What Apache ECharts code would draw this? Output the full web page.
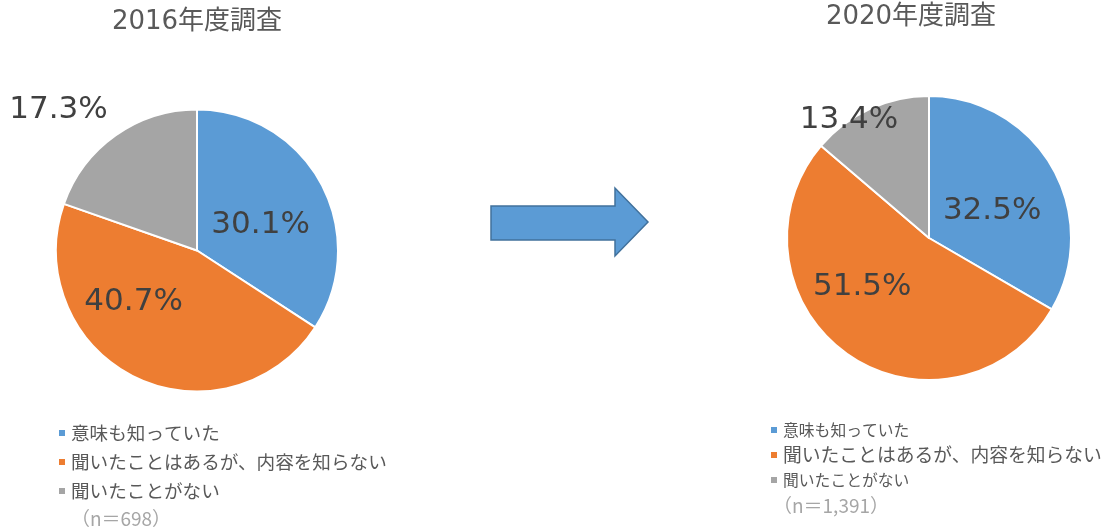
<!DOCTYPE html>
<html>
<head>
<meta charset="utf-8">
<script src="https://cdn.jsdelivr.net/npm/echarts@6/dist/echarts.min.js"></script>
<style>html,body{margin:0;padding:0;background:#fff;}#c{width:1107px;height:529px;}</style>
</head>
<body>
<div id="c"></div>
<script>
const categories = ['意味も知っていた', '聞いたことはあるが、内容を知らない', '聞いたことがない'];
const values2016 = [30.1, 40.7, 17.3];
const values2020 = [32.5, 51.5, 13.4];
const titles = ['2016年度調査', '2020年度調査'];
const sampleNotes = ['（n＝698）', '（n＝1,391）'];
const colors = ['#5b9bd5', '#ed7d31', '#a5a5a5'];

const labelOffsets2016 = [[-1, 10], [-31, -15], [-96, -81]];
const labelOffsets2020 = [[-1, 10], [-24, -11], [-49, -51]];

const chart = echarts.init(document.getElementById('c'));
const pctFont = 'DejaVu Sans, Noto Sans CJK JP, sans-serif';
const jpFont = 'Noto Sans CJK JP, sans-serif';

function pie(values, center, radius, offsets) {
  return {
    type: 'pie',
    center: center,
    radius: radius,
    startAngle: 90,
    clockwise: true,
    avoidLabelOverlap: false,
    emphasis: { scale: false },
    itemStyle: { borderColor: '#ffffff', borderWidth: 2 },
    label: {
      show: true, position: 'inside', formatter: '{c}%',
      fontFamily: pctFont, fontSize: 31, color: '#404040'
    },
    labelLine: { show: false },
    labelLayout: function (p) { return { dx: offsets[p.dataIndex][0], dy: offsets[p.dataIndex][1] }; },
    data: categories.map((n, i) => ({ name: n, value: values[i] }))
  };
}

chart.setOption({
  animation: false,
  color: colors,
  title: [
    { text: titles[0], left: 197, top: 7, textAlign: 'center', padding: 0,
      textStyle: { fontFamily: pctFont, fontSize: 26, fontWeight: 'normal', color: '#595959', lineHeight: 30 } },
    { text: titles[1], left: 911, top: 2, textAlign: 'center', padding: 0,
      textStyle: { fontFamily: pctFont, fontSize: 26, fontWeight: 'normal', color: '#595959', lineHeight: 30 } },
    { text: sampleNotes[0], left: 121, top: 509, textAlign: 'center', padding: 0,
      textStyle: { fontFamily: jpFont, fontSize: 19, fontWeight: 'normal', color: '#a6a6a6', lineHeight: 20 } },
    { text: sampleNotes[1], left: 831, top: 496, textAlign: 'center', padding: 0,
      textStyle: { fontFamily: jpFont, fontSize: 19, fontWeight: 'normal', color: '#a6a6a6', lineHeight: 20 } }
  ],
  legend: [
    { orient: 'vertical', left: 57, top: 423, padding: 0, itemWidth: 8, itemHeight: 8, itemGap: 9,
      icon: 'rect', selectedMode: false, data: categories,
      textStyle: { fontFamily: jpFont, fontSize: 18.6, color: '#595959', lineHeight: 20 } },
    { orient: 'vertical', left: 769, top: 420, padding: 0, itemWidth: 8, itemHeight: 8, itemGap: 5,
      icon: 'rect', selectedMode: false, data: categories,
      formatter: function (n) { return n === categories[1] ? '{b|' + n + '}' : '{a|' + n + '}'; },
      textStyle: { fontFamily: jpFont, color: '#595959', lineHeight: 20,
        rich: { a: { fontFamily: jpFont, fontSize: 15.8, color: '#595959', lineHeight: 20 },
                b: { fontFamily: jpFont, fontSize: 18.8, color: '#595959', lineHeight: 20 } } } }
  ],
  graphic: [
    { type: 'polygon', shape: { points: [[491, 206], [615, 206], [615, 188], [648, 222], [615, 256], [615, 240], [491, 240]] },
      style: { fill: '#5b9bd5', stroke: '#41719c', lineWidth: 1.5 } }
  ],
  series: [
    pie(values2016, [197, 250.5], 141, labelOffsets2016),
    pie(values2020, [929, 238], 142, labelOffsets2020)
  ]
});
</script>
</body>
</html>
